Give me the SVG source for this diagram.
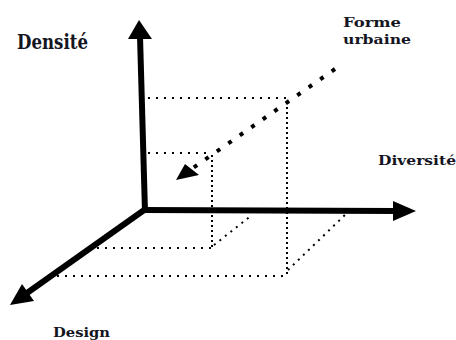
<svg xmlns="http://www.w3.org/2000/svg" width="456" height="340" viewBox="0 0 456 340">
<style>
text{font-family:"DejaVu Serif","Liberation Serif",serif;font-weight:bold;fill:#15151f}
.axis{stroke:#000;stroke-width:6;fill:none;stroke-linecap:butt}
.head{fill:#000}
.dh{stroke:#000;stroke-width:2;fill:none;stroke-dasharray:2 6}
.dv{stroke:#000;stroke-width:2;fill:none;stroke-dasharray:2 3}
.dd{stroke:#000;stroke-width:2;fill:none;stroke-dasharray:2 5}
.big{stroke:#000;stroke-width:4;fill:none;stroke-dasharray:4 10}
</style>
<rect width="456" height="340" fill="#fff"/>
<g id="connectors">
  <line class="dh" x1="148" y1="98" x2="291" y2="98"/>
  <line class="dv" x1="287" y1="102" x2="287" y2="276"/>
  <line class="dh" x1="57" y1="276" x2="287" y2="276"/>
  <line class="dd" x1="288" y1="270" x2="348" y2="212"/>
  <line class="dh" x1="148" y1="153" x2="212" y2="153"/>
  <line class="dv" x1="212" y1="155" x2="212" y2="248"/>
  <line class="dh" x1="97" y1="248" x2="212" y2="248"/>
  <line class="dd" x1="214" y1="245" x2="252" y2="215"/>
  <line class="big" x1="335" y1="69" x2="190" y2="170"/>
  <polygon class="head" points="176,180 185,164 199,175"/>
  <line class="axis" x1="145" y1="212" x2="140" y2="36"/>
  <polygon class="head" points="139,20 128,39 152,39"/>
  <line class="axis" x1="142" y1="210" x2="396" y2="211"/>
  <polygon class="head" points="416,211 393,201 393,221"/>
  <line class="axis" x1="147" y1="208" x2="27" y2="293"/>
  <polygon class="head" points="10,305 34,301 22,284"/>
</g>
<g id="densite"><text x="17" y="49" font-size="20" textLength="71" lengthAdjust="spacingAndGlyphs">Densité</text></g>
<g id="forme"><text x="343" y="27" font-size="13" textLength="58" lengthAdjust="spacingAndGlyphs">Forme</text><text x="343" y="44" font-size="13" textLength="68" lengthAdjust="spacingAndGlyphs">urbaine</text></g>
<g id="diversite"><text x="378" y="165" font-size="13" textLength="78" lengthAdjust="spacingAndGlyphs">Diversité</text></g>
<g id="design"><text x="53" y="337" font-size="13" textLength="57" lengthAdjust="spacingAndGlyphs">Design</text></g>
</svg>
